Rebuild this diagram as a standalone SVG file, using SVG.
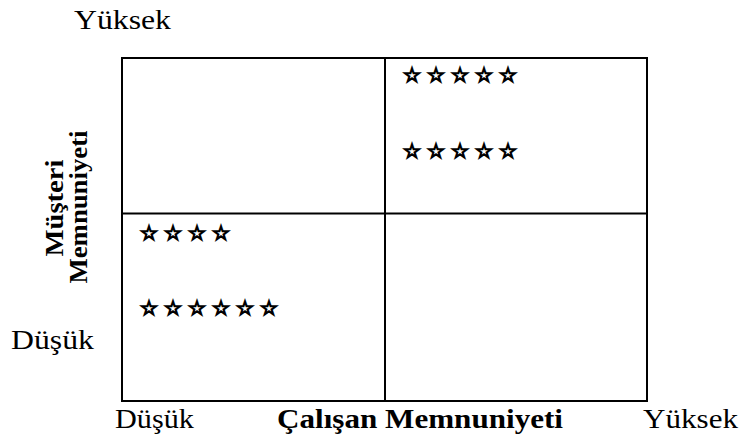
<svg xmlns="http://www.w3.org/2000/svg" width="744" height="439" viewBox="0 0 744 439">
  <style>
    .lbl { font-family: "Liberation Serif", "Times New Roman", serif; font-size: 28px; fill: #000; }
    .bold { font-weight: bold; }
    .side { font-size: 26px; }
    .star { font-family: "DejaVu Sans", sans-serif; font-size: 20px; fill: #fff; stroke: #000; stroke-width: 1.5; text-anchor: middle; }
    .grid { fill: none; stroke: #000; stroke-width: 2; }
  </style>
  <rect width="744" height="439" fill="#fff"/>

  <!-- 2x2 matrix frame and dividers -->
  <g id="matrix">
    <rect class="grid" x="122" y="58" width="525" height="343"/>
    <line class="grid" x1="385" y1="58" x2="385" y2="401"/>
    <line class="grid" x1="122" y1="213.5" x2="647" y2="213.5"/>
  </g>

  <!-- axis labels -->
  <g id="axis-y">
    <text class="lbl" x="74" y="29" textLength="97" lengthAdjust="spacingAndGlyphs">Yüksek</text>
    <text class="lbl" x="11" y="349" textLength="83" lengthAdjust="spacingAndGlyphs">Düşük</text>
    <text class="lbl bold side" transform="translate(63,208) rotate(-90)" text-anchor="middle" textLength="97" lengthAdjust="spacingAndGlyphs">Müşteri</text>
    <text class="lbl bold side" transform="translate(87,207) rotate(-90)" text-anchor="middle" textLength="153" lengthAdjust="spacingAndGlyphs">Memnuniyeti</text>
  </g>
  <g id="axis-x">
    <text class="lbl" x="115" y="428" textLength="79" lengthAdjust="spacingAndGlyphs">Düşük</text>
    <text class="lbl bold" x="277" y="428" textLength="286" lengthAdjust="spacingAndGlyphs">Çalışan Memnuniyeti</text>
    <text class="lbl" x="643" y="428" textLength="95" lengthAdjust="spacingAndGlyphs">Yüksek</text>
  </g>

  <!-- star ratings in quadrants -->
  <g id="quadrant-high-high">
    <text class="star" x="412 436 460 484 508" y="82">☆☆☆☆☆</text>
    <text class="star" x="412 436 460 484 508" y="158">☆☆☆☆☆</text>
  </g>
  <g id="quadrant-low-low">
    <text class="star" x="149 173 197 221" y="240">☆☆☆☆</text>
    <text class="star" x="149 173 197 221 245 269" y="315">☆☆☆☆☆☆</text>
  </g>
</svg>
